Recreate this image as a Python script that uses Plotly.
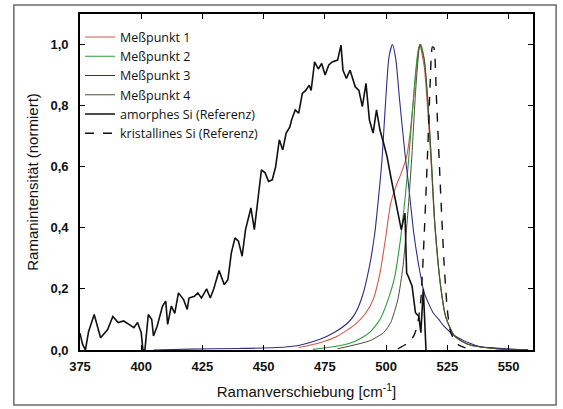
import plotly.graph_objects as go

# ---------------- data ----------------
amorph_x = [375, 376, 377.2, 378.5, 380.8, 383.4, 386.3, 388.4, 390.6, 392.8, 395, 397, 398.5, 400,
            400.7, 401.5, 402.9, 404.3, 405, 406.5, 408.7, 410, 410.8, 412.3, 413.7, 415.2, 417.3,
            418.8, 419.5, 421.7, 423.1, 424.6, 426.7, 428.2, 429.6, 431.8, 433.9, 435.4, 436.8,
            438.3, 439.7, 441.2, 442.6, 444.8, 446.2, 447.7, 449.1, 450.6, 452, 453.5, 454.9, 456.4,
            457.8, 459.2, 460.7, 461.4, 462.9, 464.3, 465.8, 467.2, 468.6, 469.4, 470.8, 472.3,
            473.7, 475.1, 476.6, 478, 480.2, 481.6, 482.4, 483.8, 485.3, 487.4, 488.9, 490.3, 491.8,
            493.2, 494.7, 496.1, 497.5, 499, 500.4, 501.9, 503.3, 504.8, 506.2, 507.7, 508.4, 509.1,
            510.6, 512, 513.4, 514.2, 515.2, 516.3]
amorph_y = [0.055, 0.02, 0.0, 0.06, 0.116, 0.04, 0.067, 0.11, 0.09, 0.095, 0.084, 0.073, 0.09, 0.057,
             0.0, 0.0, 0.116, 0.1, 0.046, 0.078, 0.144, 0.16, 0.084, 0.144, 0.12, 0.187, 0.165,
             0.133, 0.17, 0.176, 0.187, 0.17, 0.2, 0.17, 0.2, 0.26, 0.214, 0.23, 0.318,
             0.367, 0.356, 0.307, 0.394, 0.465, 0.394, 0.503, 0.59, 0.58, 0.552, 0.557, 0.6, 0.688,
             0.655, 0.71, 0.73, 0.753, 0.786, 0.775, 0.84, 0.85, 0.867, 0.85, 0.943, 0.92,
             0.938, 0.9, 0.933, 0.943, 0.949, 0.998, 0.916, 0.889, 0.916, 0.862, 0.85, 0.797, 0.873,
             0.753, 0.71, 0.786, 0.72, 0.677, 0.633, 0.568, 0.514, 0.459, 0.394, 0.448, 0.252, 0.24,
             0.21, 0.122, 0.11, 0.057, 0.2, 0.0]

mp1_x = [464.3, 473, 480.2, 487.4, 491.8, 494.7, 497.5, 499.7, 501.9, 504, 506.2, 508.4, 509.8,
         511.3, 512.7, 513.7, 515.6, 517, 518.5, 519.9, 522.1, 524.3, 527.9, 533.7, 545.2, 558]
mp1_y = [0.008, 0.024, 0.046, 0.084, 0.122, 0.165, 0.252, 0.361, 0.481, 0.535, 0.579, 0.633, 0.709,
         0.829, 0.949, 1.0, 0.927, 0.786, 0.6, 0.405, 0.22, 0.11, 0.046, 0.018, 0.004, 0.001]

mp2_x = [470.1, 480.2, 487.4, 493.2, 497.5, 500.4, 503.3, 505.5, 507.7, 509.1, 510.6, 512, 513.4,
         514.2, 515.6, 517, 518.5, 519.9, 522.1, 524.3, 527.9, 533.7, 545.2, 558]
mp2_y = [0.002, 0.013, 0.029, 0.057, 0.1, 0.155, 0.231, 0.34, 0.492, 0.612, 0.764, 0.905, 0.992,
         1.0, 0.95, 0.82, 0.62, 0.416, 0.22, 0.11, 0.046, 0.018, 0.004, 0.001]

mp3_x = [405, 420, 440, 455, 464.3, 473, 478.8, 484.5, 487.4, 490.3, 493.2, 495.4, 496.8, 498.3,
         499.7, 501.2, 502.6, 504, 505.5, 507.7, 509.1, 511.3, 513.4, 515.6, 519.2, 521.5, 523.6,
         527.9, 533.7, 539, 542.3, 552.5, 558]
mp3_y = [0.0, 0.003, 0.005, 0.008, 0.015, 0.035, 0.057, 0.09, 0.12, 0.176, 0.274, 0.383, 0.49, 0.62,
         0.8, 0.96, 1.0, 0.95, 0.82, 0.644, 0.546, 0.383, 0.274, 0.187, 0.122, 0.1, 0.078,
         0.048, 0.024, 0.01, 0.008, 0.002, 0.001]

mp4_x = [480.2, 493.2, 499, 501.9, 504.8, 506.9, 509.1, 510.6, 512, 513.4, 513.9, 515.6, 517,
         518.5, 519.9, 522.1, 524.3, 527.9, 533.7, 545.2, 558]
mp4_y = [0.004, 0.03, 0.057, 0.09, 0.165, 0.274, 0.47, 0.644, 0.84, 0.98, 1.0, 0.95, 0.82,
         0.62, 0.416, 0.22, 0.11, 0.046, 0.018, 0.004, 0.001]

krist_x = [504.8, 509.1, 511.3, 512.7, 514.2, 515.6, 517, 518, 518.9, 519.5, 520.6, 522.1, 523.6,
           525, 526.4, 529.3, 533.7]
krist_y = [0.004, 0.024, 0.046, 0.078, 0.165, 0.383, 0.655, 0.873, 0.992, 0.99, 0.82, 0.546, 0.296,
           0.133, 0.057, 0.018, 0.004]

x_ticks = [375, 400, 425, 450, 475, 500, 525, 550]
y_ticks = [0.0, 0.2, 0.4, 0.6, 0.8, 1.0]

# ---------------- figure ----------------
fig = go.Figure()
fig.add_trace(go.Scatter(x=mp1_x, y=mp1_y, mode="lines", name="Meßpunkt 1",
                         line=dict(color="#cc5a4e", width=1.1, shape="spline", smoothing=0.6)))
fig.add_trace(go.Scatter(x=mp2_x, y=mp2_y, mode="lines", name="Meßpunkt 2",
                         line=dict(color="#2f9a3c", width=1.1, shape="spline", smoothing=0.6)))
fig.add_trace(go.Scatter(x=mp3_x, y=mp3_y, mode="lines", name="Meßpunkt 3",
                         line=dict(color="#2e2e86", width=1.1, shape="spline", smoothing=0.6)))
fig.add_trace(go.Scatter(x=mp4_x, y=mp4_y, mode="lines", name="Meßpunkt 4",
                         line=dict(color="#4a4a34", width=1.0, shape="spline", smoothing=0.6)))
fig.add_trace(go.Scatter(x=amorph_x, y=amorph_y, mode="lines", name="amorphes Si (Referenz)",
                         line=dict(color="#111111", width=1.6)))
fig.add_trace(go.Scatter(x=krist_x, y=krist_y, mode="lines", name="kristallines Si (Referenz)",
                         line=dict(color="#111111", width=1.4, dash="dash", shape="spline", smoothing=0.6)))

tick_font = dict(family="Liberation Sans, Arial, sans-serif", size=13, color="#111", weight="bold")
title_font = dict(family="Liberation Sans, Arial, sans-serif", size=15, color="#111")

axis_common = dict(showline=True, linecolor="black", linewidth=1.6, mirror="ticks",
                   ticks="inside", ticklen=5, tickwidth=1.4, tickcolor="black",
                   showgrid=False, zeroline=False, automargin=False,
                   tickfont=tick_font)

fig.update_xaxes(range=[375, 560], tickvals=x_ticks, ticklabelstandoff=4,
                 title=dict(text="Ramanverschiebung [cm<sup>-1</sup>]", font=title_font, standoff=13),
                 **axis_common)
fig.update_yaxes(range=[0, 1.1], tickvals=y_ticks, tickformat=".1f", ticklabelstandoff=7,
                 title=dict(text="Ramanintensität (normiert)", font=title_font, standoff=8),
                 **axis_common)

fig.update_layout(
    width=563, height=409,
    margin=dict(l=80, r=30, t=14, b=59),
    paper_bgcolor="white", plot_bgcolor="white",
    separators=",.",
    showlegend=True,
    legend=dict(x=0.0, y=0.975, xanchor="left", yanchor="top",
                bgcolor="rgba(0,0,0,0)", borderwidth=0,
                font=dict(family="Open Sans, Noto Sans, sans-serif", size=12.5, color="#111"),
                itemwidth=30, tracegroupgap=0),
    shapes=[dict(type="rect", xref="paper", yref="paper",
                 x0=-0.146, x1=1.051, y0=-0.164, y1=1.027,
                 line=dict(color="#6a6a6a", width=1.5), fillcolor="rgba(0,0,0,0)", layer="below")],
)

fig.write_html("out.html", config={"displayModeBar": False},
               post_script="document.body.style.margin='0px';")
